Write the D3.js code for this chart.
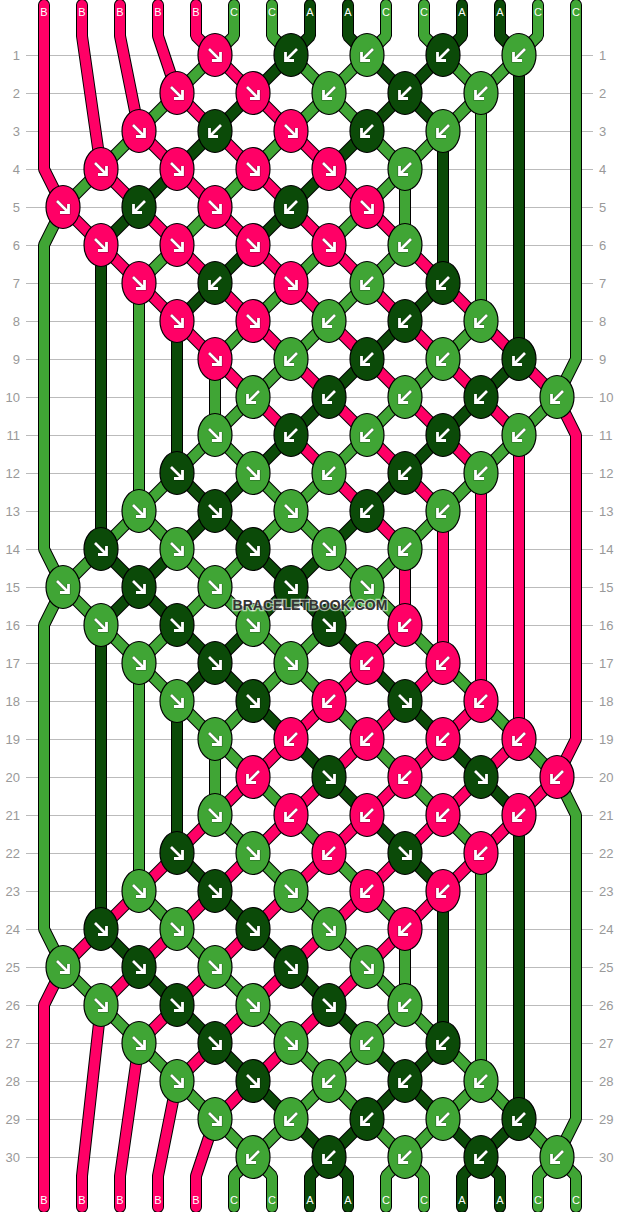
<!DOCTYPE html>
<html>
<head>
<meta charset="utf-8">
<script src="https://cdn.jsdelivr.net/npm/d3@7"></script>
<style>
    html, body { margin: 0; padding: 0; background: #fff; }
    svg { display: block; }
    text { font-family: "Liberation Sans", Arial, sans-serif; }
</style>
</head>
<body>
<div id="canvas"></div>
<script>
// thread letters as written at the top and bottom of the pattern
const topLetters = ["B","B","B","B","B","C","C","A","A","C","C","A","A","C","C"];
const bottomLetters = ["B","B","B","B","B","C","C","A","A","C","C","A","A","C","C"];

// first thread of each row's knots (every row has 5 knots, 2 threads apart)
const rowStart = [4,3,2,1,0,1,2,3,4,5,4,3,2,1,0,1,2,3,4,5,4,3,2,1,0,1,2,3,4,5];

// R = forward knot (left thread on top), L = backward knot (right thread on top)
const rowKnots = [
    "RLLLL","RRLLL","RLRLL","RRRRL","RLRLR","RRRRL","RLRLL","RRLLL","RLLLL","LLLLL",
    "RLLLL","RRLLL","RRRLL","RRRRL","RRRRR","RRRRL","RRRLL","RRLRL","RLLLL","LRLRL",
    "RLLLL","RRLRL","RRRLL","RRRRL","RRRRR","RRRRL","RRRLL","RRLLL","RLLLL","LLLLL"
];

const threadColors = { A: "#0b4a08", B: "#ff0066", C: "#40a535" };
const rowNumbers = d3.range(1, 31);

const width = 620;
const height = 1212;

const x = d3.scaleLinear().domain([0, 14]).range([44, 576]);
const y = d3.scaleLinear().domain([1, 30]).range([55, 1157]);

const threadTop = 5;
const threadBottom = 1207;
const bendTop = y(0.5);
const bendBottom = y(30.5);

const svg = d3.select("#canvas").append("svg")
    .attr("width", width)
    .attr("height", height);

// row numbers on both sides
svg.append("g")
    .attr("transform", "translate(26,0)")
    .call(d3.axisLeft(y).tickValues(rowNumbers).tickFormat(d3.format("d")).tickSize(0).tickPadding(6));
svg.append("g")
    .attr("transform", "translate(593,0)")
    .call(d3.axisRight(y).tickValues(rowNumbers).tickFormat(d3.format("d")).tickSize(0).tickPadding(6));
svg.selectAll(".domain").remove();
svg.selectAll(".tick text")
    .attr("fill", "#999")
    .style("font-size", "13px")
    .style("font-family", '"Liberation Sans", Arial, sans-serif');

// grid
svg.append("g").selectAll("line").data(rowNumbers).enter().append("line")
    .attr("x1", 26)
    .attr("x2", 593)
    .attr("y1", d => y(d))
    .attr("y2", d => y(d))
    .attr("stroke", "#bbb")
    .attr("stroke-width", 1)
    .attr("shape-rendering", "crispEdges");

// follow the threads through the knots
let threads = topLetters.map((letter, i) => ({
    letter: letter,
    slot: i,
    points: [[x(i), threadTop], [x(i), bendTop]]
}));
let knots = [];

function addStop(t, slot, row, kx) {
    // threads on the edge swing back in from their own column
    if (slot === 0 || slot === 14) t.points.push([x(slot), y(row - 1)]);
    t.points.push([kx, y(row)]);
}

rowKnots.forEach((dirs, r) => {
    const row = r + 1;
    dirs.split("").forEach((dir, k) => {
        const left = rowStart[r] + k * 2;
        const kx = x(left + 0.5);
        const a = threads.find(t => t.slot === left);
        const b = threads.find(t => t.slot === left + 1);
        addStop(a, left, row, kx);
        addStop(b, left + 1, row, kx);
        knots.push({ x: kx, y: y(row), dir: dir, letter: dir === "R" ? a.letter : b.letter });
        a.slot = left + 1;
        b.slot = left;
        // leaving an edge knot: go out to the edge column first
        if (row < rowKnots.length) {
            if (left === 0) b.points.push([x(0), y(row + 1)]);
            if (left + 1 === 14) a.points.push([x(14), y(row + 1)]);
        }
    });
});

threads.forEach(t => {
    t.points.push([x(t.slot), bendBottom]);
    t.points.push([x(t.slot), threadBottom]);
});

const line = d3.line();

const strands = svg.append("g").selectAll("g").data(threads).enter().append("g");
strands.append("path")
    .attr("d", d => line(d.points))
    .attr("fill", "none")
    .attr("stroke", "#000")
    .attr("stroke-width", 12)
    .attr("stroke-linecap", "round")
    .attr("stroke-linejoin", "bevel");
strands.append("path")
    .attr("d", d => line(d.points))
    .attr("fill", "none")
    .attr("stroke", d => threadColors[d.letter])
    .attr("stroke-width", 10)
    .attr("stroke-linecap", "round")
    .attr("stroke-linejoin", "bevel");

// knots
const knotGroups = svg.append("g").selectAll("g").data(knots).enter().append("g")
    .attr("transform", d => `translate(${d.x},${d.y})`);

knotGroups.append("ellipse")
    .attr("rx", 17)
    .attr("ry", 21.5)
    .attr("fill", d => threadColors[d.letter])
    .attr("stroke", "#000")
    .attr("stroke-width", 1.2);

const arrowPath = "M-6,-6L5,5M5.5,-3V5.5H-3";
const arrowFlip = d => d.dir === "R" ? null : "scale(-1,1)";

knotGroups.append("path")
    .attr("d", arrowPath)
    .attr("transform", arrowFlip)
    .attr("fill", "none")
    .attr("stroke", "#000")
    .attr("stroke-opacity", 0.45)
    .attr("stroke-width", 3.8);

knotGroups.append("path")
    .attr("d", arrowPath)
    .attr("transform", arrowFlip)
    .attr("fill", "none")
    .attr("stroke", "#fff")
    .attr("stroke-width", 2.8);

// thread letters
svg.append("g").selectAll("text").data(topLetters).enter().append("text")
    .attr("x", (d, i) => x(i))
    .attr("y", 16)
    .attr("text-anchor", "middle")
    .attr("fill", "#fff")
    .style("font-size", "11px")
    .text(d => d);

svg.append("g").selectAll("text").data(bottomLetters).enter().append("text")
    .attr("x", (d, i) => x(i))
    .attr("y", 1204)
    .attr("text-anchor", "middle")
    .attr("fill", "#fff")
    .style("font-size", "11px")
    .text(d => d);

// watermark
svg.append("text")
    .attr("x", 310)
    .attr("y", 610)
    .attr("text-anchor", "middle")
    .attr("fill", "#333")
    .attr("stroke", "#fff")
    .attr("stroke-width", 2.5)
    .attr("stroke-opacity", 0.6)
    .attr("paint-order", "stroke")
    .style("font-size", "14px")
    .style("font-weight", "bold")
    .text("BRACELETBOOK.COM");
</script>
</body>
</html>
